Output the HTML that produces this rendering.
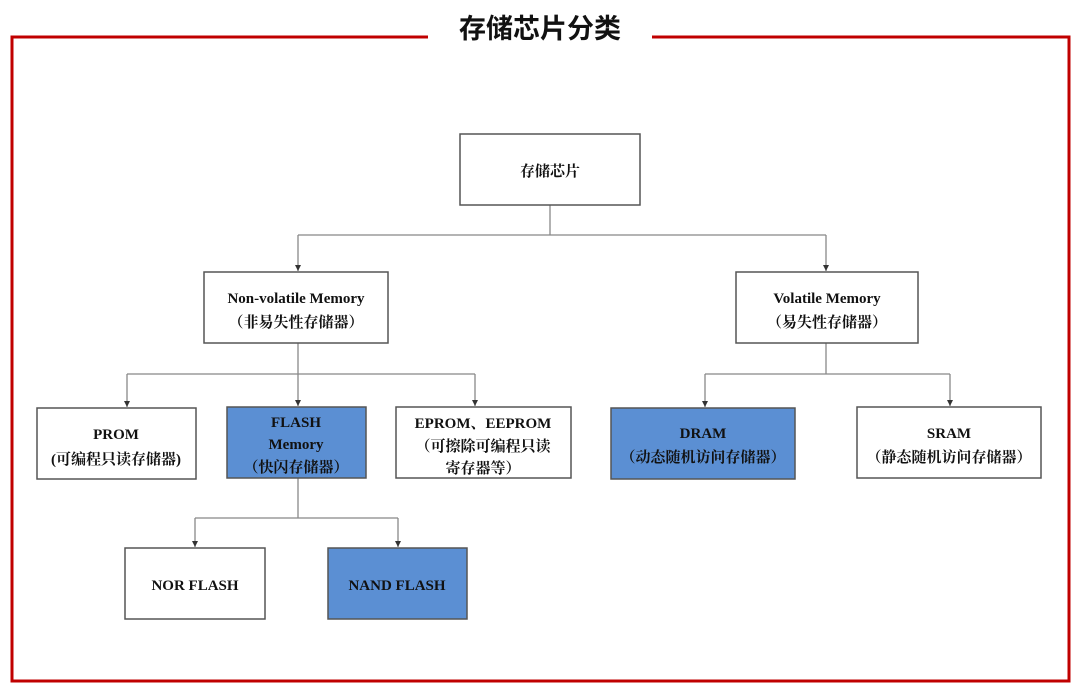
<!DOCTYPE html>
<html><head><meta charset="utf-8"><style>
html,body{margin:0;padding:0;background:#fff;width:1080px;height:689px;overflow:hidden}
svg text{font-family:"Liberation Serif","Noto Serif CJK SC",serif;font-weight:bold;fill:#111}
</style></head><body>
<svg width="1080" height="689" viewBox="0 0 1080 689" xmlns="http://www.w3.org/2000/svg">
<defs><marker id="a" markerWidth="7" markerHeight="7" refX="6" refY="3" orient="auto" markerUnits="userSpaceOnUse"><path d="M0,0 L6,3 L0,6 z" fill="#333"/></marker></defs>
<path d="M428,37 H12 V681 H1069 V37 H652" fill="none" stroke="#c00000" stroke-width="3"/>
<text x="540" y="38" text-anchor="middle" style="font-family:'Liberation Sans','Noto Sans CJK SC',sans-serif;font-size:27px;font-weight:bold">存储芯片分类</text>
<g fill="none" stroke="#888" stroke-width="1.3">
<path d="M550,205 V235 M298,235 H826"/>
<path d="M298,235 V271" marker-end="url(#a)"/><path d="M826,235 V271" marker-end="url(#a)"/>
<path d="M298,343 V374 M127,374 H475"/>
<path d="M127,374 V407" marker-end="url(#a)"/><path d="M298,374 V406" marker-end="url(#a)"/><path d="M475,374 V406" marker-end="url(#a)"/>
<path d="M826,343 V374 M705,374 H950"/>
<path d="M705,374 V407" marker-end="url(#a)"/><path d="M950,374 V406" marker-end="url(#a)"/>
<path d="M298,478 V518 M195,518 H398"/>
<path d="M195,518 V547" marker-end="url(#a)"/><path d="M398,518 V547" marker-end="url(#a)"/>
</g>
<g stroke="#555" stroke-width="1.5">
<rect x="460" y="134" width="180" height="71" fill="#fff"/>
<rect x="204" y="272" width="184" height="71" fill="#fff"/>
<rect x="736" y="272" width="182" height="71" fill="#fff"/>
<rect x="37" y="408" width="159" height="71" fill="#fff"/>
<rect x="227" y="407" width="139" height="71" fill="#5b8fd3"/>
<rect x="396" y="407" width="175" height="71" fill="#fff"/>
<rect x="611" y="408" width="184" height="71" fill="#5b8fd3"/>
<rect x="857" y="407" width="184" height="71" fill="#fff"/>
<rect x="125" y="548" width="140" height="71" fill="#fff"/>
<rect x="328" y="548" width="139" height="71" fill="#5b8fd3"/>
</g>
<g font-size="15" text-anchor="middle">
<text x="550" y="176">存储芯片</text>
<text x="296" y="303">Non-volatile Memory</text><text x="296" y="327">（非易失性存储器）</text>
<text x="827" y="303">Volatile Memory</text><text x="827" y="327">（易失性存储器）</text>
<text x="116" y="439">PROM</text><text x="116" y="464">(可编程只读存储器)</text>
<text x="296" y="427">FLASH</text><text x="296" y="449">Memory</text><text x="296" y="472">（快闪存储器）</text>
<text x="483" y="428">EPROM、EEPROM</text><text x="483" y="451">（可擦除可编程只读</text><text x="483" y="473">寄存器等）</text>
<text x="703" y="438">DRAM</text><text x="703" y="462">（动态随机访问存储器）</text>
<text x="949" y="438">SRAM</text><text x="949" y="462">（静态随机访问存储器）</text>
<text x="195" y="590">NOR FLASH</text>
<text x="397" y="590">NAND FLASH</text>
</g>
</svg>
</body></html>
